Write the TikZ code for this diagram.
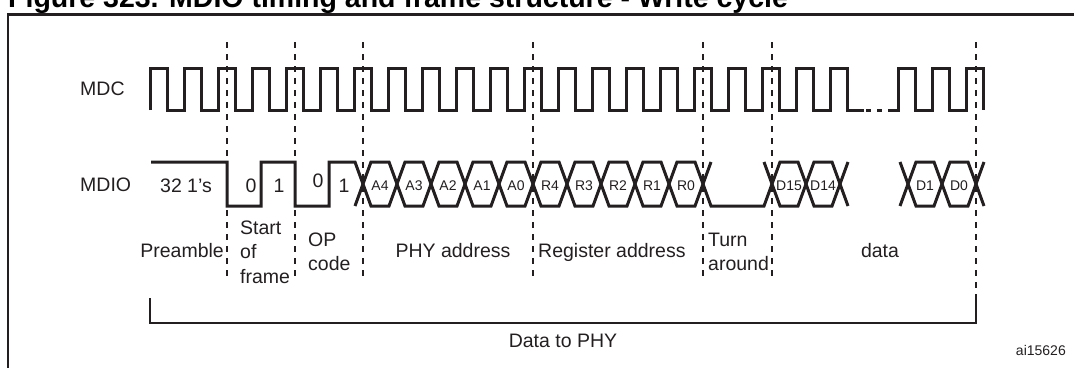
\documentclass[tikz,border=0pt]{standalone}
\usepackage{fontspec}
\setmainfont{Liberation Sans}
\usepackage{tikz}
\usetikzlibrary{positioning}
\definecolor{inkblack}{RGB}{35,31,32}

\begin{document}
\begin{tikzpicture}[x=1pt,y=-1pt,
    sig/.style={inkblack,line width=3pt},
    guide/.style={inkblack,line width=1.3pt,dash pattern=on 6pt off 6pt},
    lbl/.style={inkblack,inner sep=0pt,font=\fontsize{19.5}{24.5}\selectfont},
    buslbl/.style={inkblack,inner sep=0pt,font=\fontsize{14}{15}\selectfont}]
    \useasboundingbox (0,0) rectangle (1074,367);

    % frame and caption
    \node[anchor=base west,inner sep=0pt,font=\fontsize{28.5}{32}\selectfont\bfseries] (title) at (8,7) {Figure 323. MDIO timing and frame structure - Write cycle};
    \draw[inkblack,line width=2.5pt] (8,380) -- (8,14.7) -- (1080,14.7);

    % field boundaries
    \foreach \x in {227,295,363,533,703,772} \draw[guide] (\x,42) -- (\x,277);
    \draw[guide] (976,42) -- (976,298);

    % MDC clock
    \node[lbl,anchor=west] (mdc) at (80,89) {MDC};
    \draw[sig] (150,110) \foreach \x in {150,184,...,830} {-- (\x,68) -- (\x+17,68) -- (\x+17,110) -- (\x+34,110)};
    \foreach \d in {866,877,888} \draw[sig] (\d,110) -- ++(5,0);
    \draw[sig] (893,110) \foreach \x in {898,932} {-- (\x,110) -- (\x,68) -- (\x+17,68) -- (\x+17,110)} -- (966,110) -- (966,68) -- (983,68) -- (983,110);

    % MDIO line
    \node[lbl,anchor=west] (mdio) at (80,185) {MDIO};
    \draw[sig] (151,162) -- (227,162) -- (227,206) -- (261,206) -- (261,162) -- (295,162) -- (295,206) -- (329,206) -- (329,162) -- (355,162) -- (363,184);
    \draw[sig] (355,206) -- (363,184);
    \node[lbl] (ones) at (186,186) {32 1's};
    \node[lbl] (sofa) at (251,186) {0};
    \node[lbl] (sofb) at (279,186) {1};
    \node[lbl] (opa) at (318,181) {0};
    \node[lbl] (opb) at (344,186) {1};

    \foreach \c/\t in {363/A4,397/A3,431/A2,465/A1,499/A0,533/R4,567/R3,601/R2,635/R1,669/R0,772/D15,806/D14,908/D1,942/D0} {
        \draw[sig] (\c,184) -- (\c+8,162) -- (\c+26,162) -- (\c+34,184) -- (\c+26,206) -- (\c+8,206) -- cycle;
        \node[buslbl] (bit\t) at (\c+17,186) {\t};
    }
    \draw[sig] (703,184) -- (711,162);
    \draw[sig] (703,184) -- (711,206) -- (764,206) -- (772,184);
    \draw[sig] (764,162) -- (772,184);
    \draw[sig] (848,162) -- (840,184) -- (848,206);
    \draw[sig] (900,162) -- (908,184) -- (900,206);
    \draw[sig] (984,162) -- (976,184) -- (984,206);

    % field names
    \node[lbl,anchor=base east] (pre) at (224,257) {Preamble};
    \node[lbl,anchor=west,align=left] (sof) at (240,252) {Start\\of\\frame};
    \node[lbl,anchor=west,align=left] (op) at (308,252) {OP\\code};
    \node[lbl,anchor=base] (phy) at (453,257) {PHY address};
    \node[lbl,anchor=base west] (reg) at (538,257) {Register address};
    \node[lbl,anchor=west,align=left] (ta) at (708,252) {Turn\\around};
    \node[lbl,anchor=base] (dat) at (880,257) {data};

    % bracket
    \draw[inkblack,line width=1.3pt] (150,298) -- (150,323) -- (976,323) -- (976,298);
    \node[lbl,anchor=base] (tophy) at (563,347) {Data to PHY};
    \node[inkblack,inner sep=0pt,anchor=base east,font=\fontsize{14}{16}\selectfont] (ref) at (1066,355) {ai15626};
\end{tikzpicture}
\end{document}
